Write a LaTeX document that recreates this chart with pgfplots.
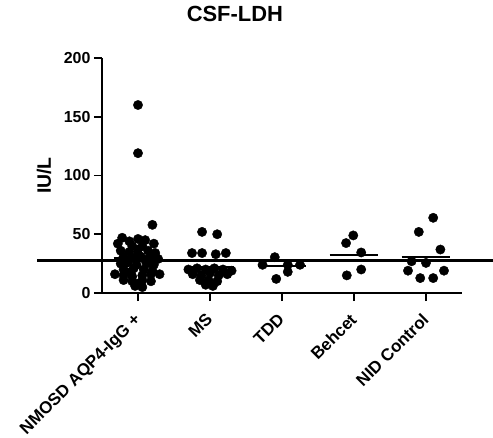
\documentclass[border=0pt]{standalone}
\usepackage{fontspec}
\setmainfont{Liberation Sans}
\usepackage{pgfplots}
\pgfplotsset{compat=1.18}
\begin{document}
\begin{tikzpicture}
\begin{axis}[
  scale only axis, width=360bp, height=235bp,
  at={(0,0)}, anchor=south west,
  xmin=-0.5, xmax=4.5, ymin=0, ymax=200,
  axis x line*=bottom, axis y line*=left,
  axis line style={line width=1.6bp, -},
  xtick={0,1,2,3,4},
  xticklabels={NMOSD AQP4-IgG +, MS, TDD, Behcet, NID Control},
  ytick={0,50,100,150,200},
  tick align=outside, major tick length=8bp,
  tick style={line width=1.6bp, black},
  xticklabel style={rotate=45, anchor=north east, yshift=-1bp, xshift=-8bp, font=\fontsize{17}{19}\selectfont\bfseries},
  yticklabel style={font=\fontsize{16}{18}\selectfont\bfseries},
  /pgf/number format/assume math mode=true,
  ylabel={IU/L},
  ylabel style={at={(rel axis cs:-0.161,0.5)}, anchor=center, rotate=0, font=\fontsize{19.5}{22}\selectfont\bfseries},
  title={CSF-LDH},
  title style={at={(rel axis cs:0.369,1.162)}, anchor=center, font=\fontsize{22}{24}\selectfont\bfseries},
  clip=false,
]
% reference line
\addplot[black, line width=3bp] coordinates {(-1.40,28) (4.93,28)};
% points
\addplot[only marks, mark=*, mark size=4.7pt, mark options={fill=black, draw=black}] table {
x y
0.00 160
0.00 119
0.20 58
-0.22 47
0.00 46
0.10 45
-0.12 44
-0.28 42
0.22 42
-0.08 40
0.06 40
-0.24 36
-0.12 35
0.00 37
0.14 36
0.24 34
-0.20 31
-0.08 30
0.04 31
0.16 30
0.28 29
-0.14 26
0.12 25
-0.02 24
0.22 24
-0.24 25
-0.20 20
-0.06 21
0.08 20
0.20 19
-0.32 16
-0.20 15
-0.08 14
0.06 15
0.18 16
0.30 16
-0.20 11
-0.08 10
0.06 11
0.18 10
-0.04 6
0.06 5
0.00 8
-0.10 18
0.10 28
0.00 33
0.89 52
1.10 50
0.75 34
0.89 34
1.08 33
1.22 34
0.70 20
0.82 21
0.94 20
1.06 21
1.18 20
1.30 19
0.76 16
0.88 15
1.00 17
1.12 15
1.24 16
0.86 11
0.98 11
1.10 10
0.94 7
1.04 6
1.90 30.5
1.73 24
2.08 24
2.25 24
2.08 18
1.92 12
2.99 49
2.89 42.5
3.10 34.5
3.10 20
2.90 15
4.10 64
3.90 52
4.20 37
3.80 27
4.00 25.6
3.75 19
4.25 19
3.92 12.7
4.10 12.7
};
% mean lines
\addplot[black, line width=2bp] coordinates {(-0.34,30) (0.34,30)};
\addplot[black, line width=2bp] coordinates {(0.66,22) (1.34,22)};
\addplot[black, line width=2bp] coordinates {(1.66,23) (2.34,23)};
\addplot[black, line width=2bp] coordinates {(2.66,32.5) (3.34,32.5)};
\addplot[black, line width=2bp] coordinates {(3.66,30.5) (4.34,30.5)};
\end{axis}
\pgfresetboundingbox
\path (-102bp,-145bp) rectangle (391bp,293bp);
\end{tikzpicture}
\end{document}
